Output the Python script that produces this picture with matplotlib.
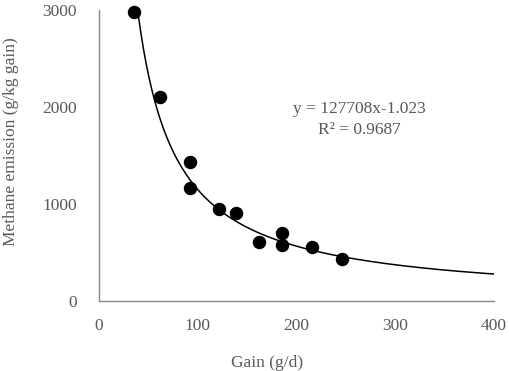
import numpy as np
import matplotlib
matplotlib.use("Agg")
import matplotlib.pyplot as plt

plt.rcParams['font.family'] = ['Liberation Serif', 'DejaVu Serif']

gain = [35, 62, 92, 92, 122, 139, 162, 185, 185, 216, 246]
methane = [2975, 2105, 1430, 1165, 950, 912, 605, 702, 575, 552, 430]

coef_a = 127708
coef_b = -1.023
eq_text = "y = 127708x-1.023"
r2_text = "R² = 0.9687"

x_ticks = [0, 100, 200, 300, 400]
y_ticks = [0, 1000, 2000, 3000]

FS = 12.5
fig = plt.figure(figsize=(5.10, 3.71), dpi=100)
ax = fig.add_axes([99/510, 70/371, (494-99)/510, (301-10)/371])

xs = np.linspace(min(gain), 400, 400)
ax.plot(xs, coef_a * xs ** coef_b, color='black', lw=1.1, zorder=2, clip_on=True)
ax.scatter(gain, methane, s=75, color='black', zorder=3, clip_on=False)

ax.set_xlim(0, 400)
ax.set_ylim(0, 3000)
ax.set_xticks(x_ticks)
ax.set_yticks(y_ticks)
gray = '#595959'
ax.tick_params(length=0, labelsize=FS, colors=gray)
ax.tick_params(axis='x', pad=12)
ax.tick_params(axis='y', pad=16)
for s in ['top', 'right']:
    ax.spines[s].set_visible(False)
for s in ['left', 'bottom']:
    ax.spines[s].set_color('#898989')
    ax.spines[s].set_linewidth(1.0)

ax.set_xlabel("Gain (g/d)", fontsize=FS, color=gray)
ax.xaxis.set_label_coords((267-99)/395, -(355-301)/291)
ax.set_ylabel("Methane emission (g/kg gain)", fontsize=FS, color=gray)
ax.yaxis.set_label_coords(-(99-19)/395, (301-142)/291)

ax.text(264, (301-109)/0.097, eq_text, ha='center', va='center', fontsize=FS, color=gray)
ax.text(264, (301-130)/0.097, r2_text, ha='center', va='center', fontsize=FS, color=gray)

fig.savefig("out.png", dpi=100)
